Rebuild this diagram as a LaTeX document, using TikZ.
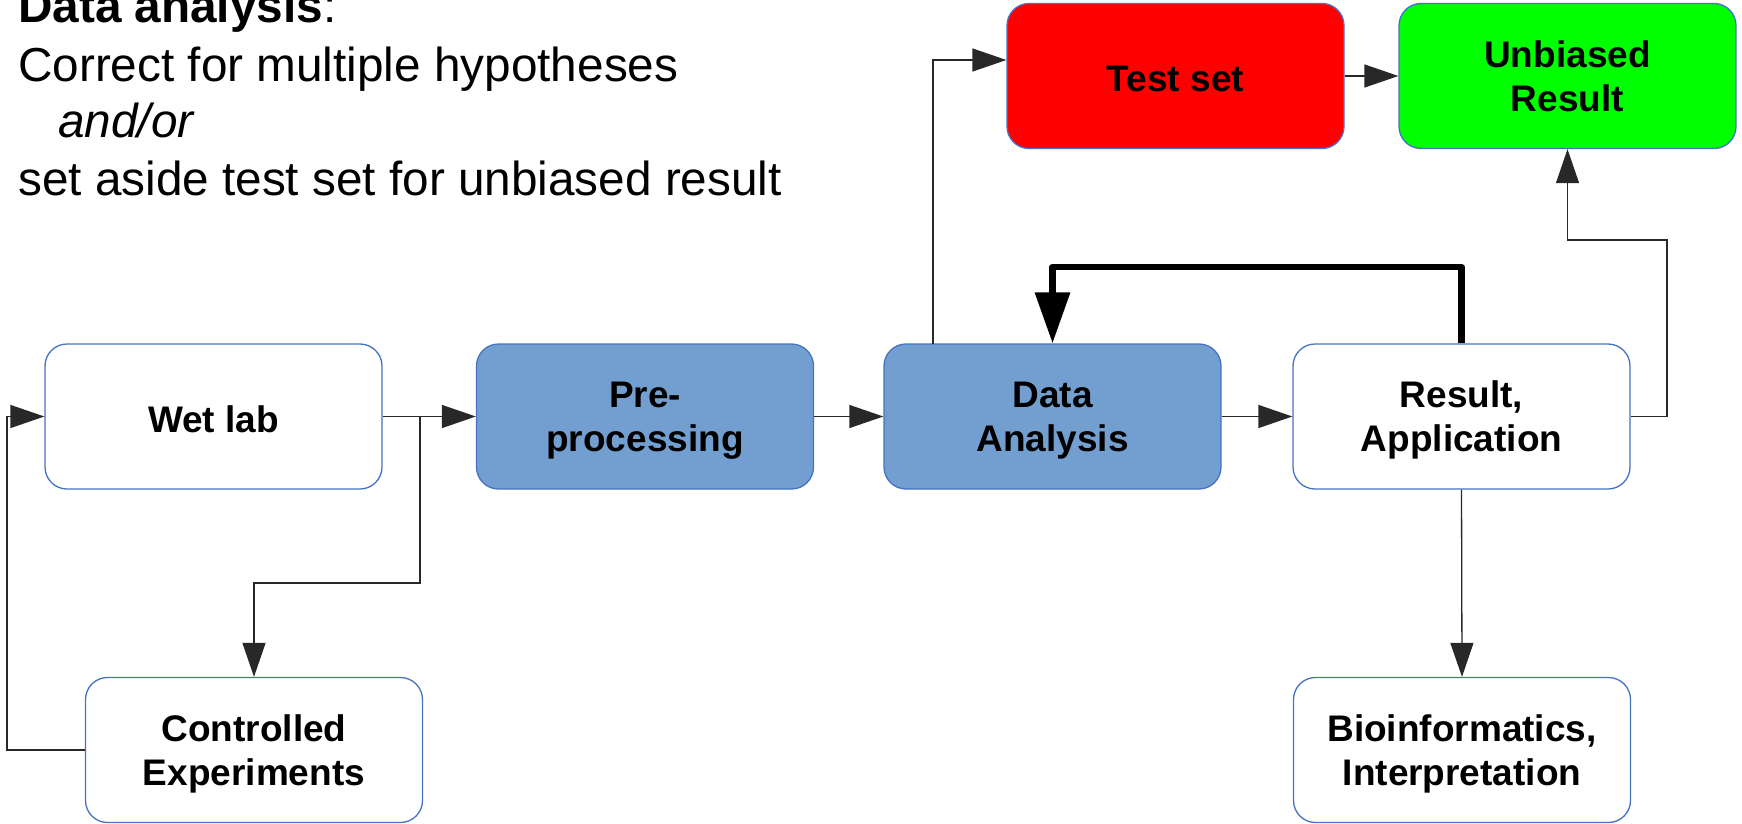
\documentclass[tikz,border=0pt]{standalone}
\usepackage{fontspec}
\setmainfont{Liberation Sans}
\usetikzlibrary{arrows.meta}
\definecolor{boxedge}{RGB}{70,114,196}
\definecolor{procfill}{RGB}{114,159,207}
\definecolor{testred}{RGB}{255,0,0}
\definecolor{goodgreen}{RGB}{0,255,0}
\definecolor{wire}{RGB}{40,40,40}
\begin{document}
\begin{tikzpicture}[x=1pt,y=-1pt,
  stage/.style={draw=boxedge, line width=1.3pt, rounded corners=22pt,
    minimum width=337pt, minimum height=145pt, inner sep=0pt,
    text depth=0pt,
    align=center, font=\fontsize{37}{44}\selectfont\bfseries},
  oneline/.style={text height=32pt},
  plain/.style={stage, fill=white},
  proc/.style={stage, fill=procfill},
  conn/.style={draw=wire, line width=1.3pt,
    -{Triangle[length=34pt,width=23pt]}},
  loopback/.style={draw=black, line width=6.5pt, line join=round,
    -{Triangle[length=51pt,width=34pt]}},
  note/.style={anchor=base west, inner sep=0pt,
    font=\fontsize{47.7}{57}\selectfont}]
\useasboundingbox (0,0) rectangle (1742,824);

% heading text
\node[note] (h1) at (18,23) {\textbf{Data analysis}:};
\node[note] (h2) at (18,82) {Correct for multiple hypotheses};
\node[note] (h3) at (58,138) {\textit{and/or}};
\node[note] (h4) at (18,195) {set aside test set for unbiased result};

% stages
\node[plain, oneline] (wet) at (213.5,416.5) {Wet lab};
\node[plain] (ctrl) at (254,750) {Controlled\\Experiments};
\node[proc]  (pre)  at (645,416.5) {Pre-\\processing};
\node[proc]  (ana)  at (1052.5,416.5) {Data\\Analysis};
\node[plain] (res)  at (1461.5,416.5) {Result,\\Application};
\node[plain] (bio)  at (1462,750) {Bioinformatics,\\Interpretation};
\node[stage, oneline, fill=testred] (test) at (1175.5,76) {Test set};
\node[stage, fill=goodgreen] (unb)  at (1567.5,76) {Unbiased\\Result};

% bend points
\coordinate (split) at (420,416.5);
\coordinate (drop)  at (254,583);
\coordinate (loopl) at (7,750);
\coordinate (tap)   at (933,344);
\coordinate (rbend) at (1667,240);
\coordinate (fbk)   at (1052.5,267);

% connectors
\draw[conn] (wet.east) -- (pre.west);
\draw[conn] (split) |- (drop) -- (ctrl.north);
\draw[conn] (ctrl.west) -- (loopl) |- (wet.west);
\draw[conn] (pre.east) -- (ana.west);
\draw[conn] (ana.east) -- (res.west);
\draw[conn] (tap) |- ([yshift=16pt]test.west);
\draw[conn] (test.east) -- (unb.west);
\draw[conn] (res.east) -| (rbend) -| (unb.south);
\draw[conn] (res.south) -- (bio.north);
\draw[loopback] (res.north) |- (fbk) -- (ana.north);
\end{tikzpicture}
\end{document}
